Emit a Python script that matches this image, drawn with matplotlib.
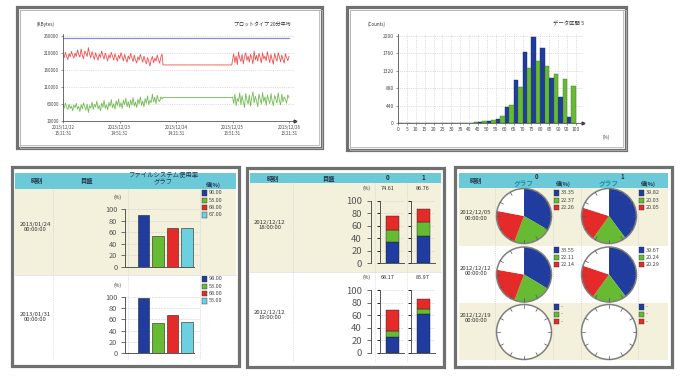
import numpy as np
import matplotlib
matplotlib.use('Agg')
import matplotlib.pyplot as plt
from matplotlib.patches import Rectangle, Circle

plt.rcParams['font.family'] = ['Noto Sans CJK JP', 'DejaVu Sans']

# ------------------------------------------------------------------ data
line_xtick_hours = [0, 23.5, 47, 70.5, 94]
line_xtick_labels = ['2013/12/22\n15:21:31', '2013/12/23\n14:51:31', '2013/12/24\n14:21:31',
                     '2013/12/25\n13:51:31', '2013/12/26\n13:21:31']
line_yticks = [10000, 60000, 110000, 160000, 210000, 260000]
line_blue = 253000
red_seg1 = [204,196,211,199,190,207,198,214,202,194,209,199,218,205,197,221,203,192,215,208,199,225,206,195,
            213,201,190,210,198,188,206,196,215,202,191,209,197,186,204,194,211,199,188,207,195,185,203,193,
            210,198,186,205,192,182,201,191,208,195,184,203,189,180,198,188,205,193,182,200,187,177,196,184,
            171,190,199,180,194,185,203,190,179,197,206]
green_seg1 = [55,47,62,50,43,58,46,53,39,56,48,61,44,52,37,57,45,63,49,41,59,34,54,47,65,43,58,50,67,45,55,39,
              62,49,70,46,57,42,64,52,72,48,60,44,68,54,74,50,63,46,70,57,76,51,66,48,71,56,78,53,65,49,73,59,
              80,55,68,51,75,61,83,57,70,63,88,65,79,60,85,71,66,80,74]
red_flat = 174
green_flat = 78
red_seg2 = [188,207,181,200,175,212,194,184,205,177,198,210,187,200,182,205,194,177,215,189,202,185,208,196,
            180,210,192,200,186,213,195,181,205,189,176,208,194,185,210,198,183,203,190,179,207,195,187,199]
green_seg2 = [80,61,88,54,75,67,92,57,84,65,49,90,71,59,86,53,78,95,62,82,69,51,88,73,59,93,66,80,55,86,71,60,
              90,67,54,84,75,62,92,69,57,88,65,80,73,61,86,78]

hist_bins = [0, 5, 10, 15, 20, 25, 30, 35, 40, 45, 50, 55, 60, 65, 70, 75, 80, 85, 90, 95]
hist_blue = [0, 0, 0, 5, 0, 0, 5, 8, 12, 25, 50, 100, 410, 1075, 1805, 2185, 1890, 1135, 645, 145]
hist_green = [0, 0, 0, 5, 0, 0, 8, 10, 15, 50, 85, 185, 460, 900, 1400, 1570, 1445, 1250, 1110, 940]
hist_yticks = [0, 440, 880, 1320, 1760, 2200]
hist_xticks = list(range(0, 101, 5))

fs_dates = ['2013/01/24\n00:00:00', '2013/01/31\n00:00:00']
fs_values = [[90, 53, 68, 67], [98, 53, 68, 55]]
fs_labels = [['90.00', '53.00', '68.00', '67.00'], ['98.00', '53.00', '68.00', '55.00']]

st_dates = ['2012/12/12\n18:00:00', '2012/12/12\n19:00:00']
st_blue = [[33.55, 44.20], [25.60, 61.70]]
st_green = [[20.10, 21.30], [9.60, 8.00]]
st_red = [[20.96, 21.26], [32.97, 16.27]]
st_totals = [['74.61', '86.76'], ['68.17', '85.97']]

pie_dates = ['2012/12/05\n00:00:00', '2012/12/12\n00:00:00', '2012/12/19\n00:00:00']
pie_values = [[[33.35, 22.37, 22.26], [39.82, 20.03, 20.05]],
              [[33.55, 22.11, 22.14], [39.67, 20.24, 20.29]],
              [None, None]]

# ------------------------------------------------------------------ style
BLUE = '#1f3c9e'
GREEN = '#66bb33'
RED = '#e52a2a'
CYAN = '#6dd0e0'
HEADER = '#6ccad8'
BEIGE = '#f3f1dc'
TEAL = '#1a8fa0'

W, H = 685, 380
fig = plt.figure(figsize=(6.85, 3.8), dpi=100)
fig.patch.set_facecolor('white')
bg = fig.add_axes([0, 0, 1, 1])
bg.set_xlim(0, W)
bg.set_ylim(H, 0)
bg.axis('off')


def pax(x0, y0, x1, y1):
    a = fig.add_axes([x0 / W, 1 - y1 / H, (x1 - x0) / W, (y1 - y0) / H])
    a.set_facecolor('none')
    return a


def T(x, y, s, size=4.5, color='#333333', ha='center', va='center', weight='normal'):
    bg.text(x, y, s, fontsize=size, color=color, ha=ha, va=va, fontweight=weight, linespacing=1.15)


def rect(x0, y0, x1, y1, **kw):
    bg.add_patch(Rectangle((x0, y0), x1 - x0, y1 - y0, **kw))


def frame(x0, y0, x1, y1, inner=False):
    rect(x0, y0, x1, y1, facecolor='white', edgecolor='#707070', lw=2.3)
    if inner:
        rect(x0 + 3, y0 + 3, x1, y1, fill=False, edgecolor='#b5b5b5', lw=0.6)
        rect(x0 + 3, y0 + 3, x1 - 3, y1 - 3, fill=False, edgecolor='#b5b5b5', lw=0.6)


def vsep(x, y0, y1):
    bg.plot([x, x], [y0, y1], color='#d0d0d0', lw=0.5, ls=(0, (1.5, 1.5)))


# ------------------------------------------------------------------ panel 1: line chart
frame(17, 7, 322, 148, inner=True)
T(37, 24, '(KBytes)', size=3.3, ha='left')
T(291, 24, 'プロットタイプ 20分平均', size=3.6, ha='right')
ax = pax(63, 34, 63 + 96.5 / 94 * 226, 120.7)
ax.set_xlim(0, 96.5)
ax.set_ylim(10000, 265000)
xs1 = np.linspace(0, 41.2, len(red_seg1))
xs2 = np.linspace(70.5, 94, len(red_seg2))
x_all = np.concatenate([xs1, [41.6, 70.2], xs2])
red_all = np.concatenate([red_seg1, [red_flat, red_flat], red_seg2]) * 1000
green_all = np.concatenate([green_seg1, [green_flat, green_flat], green_seg2]) * 1000
ax.plot([0, 94], [line_blue, line_blue], color='#8a8ae0', lw=0.9)
ax.plot(x_all, red_all, color='#ee5050', lw=0.6)
ax.plot(x_all, green_all, color='#74bb55', lw=0.6)
ax.set_yticks(line_yticks)
ax.set_yticklabels([str(v) for v in line_yticks])
ax.set_xticks(line_xtick_hours)
ax.set_xticklabels(line_xtick_labels)
ax.tick_params(labelsize=3.2, length=1.5, width=0.4, pad=1.5, colors='#444444')
ax.yaxis.grid(True, ls=':', color='#c0c0c0', lw=0.5)
for s in ['top', 'right']:
    ax.spines[s].set_visible(False)
for s in ['left', 'bottom']:
    ax.spines[s].set_color('#555555')
    ax.spines[s].set_linewidth(0.6)
ax.plot(96.5, 10000, marker='>', ms=2, color='#333333', clip_on=False)

# ------------------------------------------------------------------ panel 2: histogram
frame(347, 7, 626, 150, inner=True)
T(368, 24, '(Counts)', size=3.3, ha='left')
T(584, 24, 'データ区間 5', size=3.9, ha='right')
T(606, 137, '(%)', size=3.3)
hx = pax(398, 34, 583, 123)
hx.set_xlim(0, 104)
hx.set_ylim(0, 2250)
hx.bar(hist_bins, hist_blue, width=2.5, align='edge', color=BLUE, edgecolor='#1a2a6a', lw=0.3, zorder=3)
hx.bar([b + 2.5 for b in hist_bins], hist_green, width=2.5, align='edge', color=GREEN,
       edgecolor='#3d7a1e', lw=0.3, zorder=3)
hx.set_xticks(hist_xticks)
hx.set_xticklabels([str(v) for v in hist_xticks])
hx.set_yticks(hist_yticks)
hx.set_yticklabels([str(v) for v in hist_yticks])
hx.tick_params(labelsize=3.5, length=1.5, width=0.4, pad=1.5, colors='#444444')
hx.grid(True, ls=':', color='#c0c0c0', lw=0.5)
hx.set_axisbelow(True)
for s in ['top', 'right']:
    hx.spines[s].set_visible(False)
for s in ['left', 'bottom']:
    hx.spines[s].set_color('#555555')
    hx.spines[s].set_linewidth(0.6)
hx.plot(104, 0, marker='>', ms=2, color='#333333', clip_on=False)

# ------------------------------------------------------------------ panel 3: file system table
frame(12, 167, 239, 366)
rect(15, 173, 236, 189, facecolor=HEADER, edgecolor='none')
rect(15, 189, 236, 275, facecolor=BEIGE, edgecolor='none')
bg.plot([15, 236], [275, 275], color='#dddddd', lw=0.5)
for xs in [53, 128, 200]:
    vsep(xs, 189, 360)
T(37, 181, '時刻', size=4.5, color='#223344', weight='bold')
T(86, 181, '目盛', size=4.5, color='#223344', weight='bold')
T(163, 175.5, 'ファイルシステム使用率', size=4.6, color='#223355')
T(163, 182.5, 'グラフ', size=4.6, color='#223355')
T(213, 185, '値(%)', size=4.0, color='#223355', weight='bold')
fs_colors = [BLUE, GREEN, RED, CYAN]
for r in range(2):
    y100, y0 = [(209, 267), (297, 353)][r]
    T(35, [227, 317][r], fs_dates[r], size=4.3)
    T(118, y100 - 12, '(%)', size=3.6)
    a = pax(125, y100, 200, y0)
    a.set_ylim(0, 100)
    a.set_xlim(-1.276, 3.896)
    a.bar(range(4), fs_values[r], width=0.76, color=fs_colors, edgecolor='#222222', lw=0.4, zorder=3)
    a.set_yticks([0, 20, 40, 60, 80, 100])
    a.set_xticks([])
    a.tick_params(axis='y', direction='out', length=3, width=0.6, pad=2.5, labelsize=5.3, colors='#555555')
    a.yaxis.grid(True, ls='--', color='#cfcfcf', lw=0.4)
    a.set_axisbelow(True)
    for s in ['top', 'right']:
        a.spines[s].set_visible(False)
    a.spines['bottom'].set_bounds(-1.276, 3.45)
    for s in ['left', 'bottom']:
        a.spines[s].set_color('#555555')
        a.spines[s].set_linewidth(0.7)
    ly = [193, 279][r]
    for i in range(4):
        yy = ly + i * 7.3
        rect(202, yy - 2.6, 207.5, yy + 2.6, facecolor=fs_colors[i], edgecolor='#333333', lw=0.3)
        T(208.5, yy, fs_labels[r][i], size=4.0, ha='left', color='#444444')

# ------------------------------------------------------------------ panel 4: stacked bar table
frame(247, 168, 444, 367)
rect(250, 173, 441, 183, facecolor=HEADER, edgecolor='none')
rect(250, 183, 441, 272, facecolor=BEIGE, edgecolor='none')
bg.plot([250, 441], [272, 272], color='#dddddd', lw=0.5)
for xs in [293, 375, 407]:
    vsep(xs, 183, 361)
T(273, 178, '時刻', size=4.5, color='#223344', weight='bold')
T(328, 178, '目盛', size=4.5, color='#223344', weight='bold')
T(388, 178, '0', size=4.5, color='#223344', weight='bold')
T(423, 178, '1', size=4.5, color='#223344', weight='bold')
for r in range(2):
    y100, y0 = [(200.5, 263.3), (290, 353)][r]
    T(270, [225, 315][r], st_dates[r], size=4.3)
    T(367, y100 - 12.5, '(%)', size=3.6)
    sc = pax(371, y100, 374, y0)
    sc.set_ylim(0, 100)
    sc.set_yticks([0, 20, 40, 60, 80, 100])
    sc.set_xticks([])
    sc.tick_params(axis='y', direction='out', length=3, width=0.6, pad=3.5, labelsize=6.8, colors='#555555')
    for s in ['top', 'right', 'bottom']:
        sc.spines[s].set_visible(False)
    sc.spines['left'].set_color('#555555')
    sc.spines['left'].set_linewidth(0.7)
    for c in range(2):
        spx = [380, 411][c]
        T([388, 423][c], y100 - 12.5, st_totals[r][c], size=4.0)
        a = pax(spx, y100, spx + 24, y0)
        a.set_ylim(0, 100)
        a.set_xlim(-1, 0.85)
        b = st_blue[r][c]
        g = st_green[r][c]
        rd = st_red[r][c]
        a.bar([0], [b], width=1.0, color=BLUE, edgecolor='#222222', lw=0.3, zorder=3)
        a.bar([0], [g], bottom=[b], width=1.0, color=GREEN, edgecolor='#222222', lw=0.3, zorder=3)
        a.bar([0], [rd], bottom=[b + g], width=1.0, color=RED, edgecolor='#222222', lw=0.3, zorder=3)
        a.set_yticks([0, 20, 40, 60, 80, 100])
        a.set_yticklabels([])
        a.set_xticks([])
        a.tick_params(axis='y', direction='out', length=2.5, width=0.6)
        a.yaxis.grid(True, ls='--', color='#cfcfcf', lw=0.4)
        a.set_axisbelow(True)
        for s in ['top', 'right']:
            a.spines[s].set_visible(False)
        for s in ['left', 'bottom']:
            a.spines[s].set_color('#555555')
            a.spines[s].set_linewidth(0.7)

# ------------------------------------------------------------------ panel 5: pie table
frame(455, 167, 672, 367)
rect(459, 173, 668, 188, facecolor=HEADER, edgecolor='none')
rect(459, 188, 668, 246, facecolor=BEIGE, edgecolor='none')
rect(459, 303, 668, 360, facecolor=BEIGE, edgecolor='none')
for xs in [495, 553, 581, 638]:
    vsep(xs, 188, 360)
T(476, 180, '時刻', size=4.5, color='#223344', weight='bold')
T(537, 176.5, '0', size=4.3, color='#223344', weight='bold')
T(622, 176.5, '1', size=4.3, color='#223344', weight='bold')
for gx, vx in [(524, 563), (609, 648)]:
    T(gx, 184, 'グラフ', size=4.8, color=TEAL, weight='bold')
    T(vx, 184, '値(%)', size=4.0, color='#223344', weight='bold')
pie_colors = [BLUE, GREEN, RED]
R = 27.5
for r in range(3):
    cy = [216, 274.5, 332][r]
    T(476, [215.5, 271, 318][r], pie_dates[r], size=4.3)
    for c in range(2):
        cx = [524, 609][c]
        k = R * 1.08
        a = pax(cx - k, cy - k, cx + k, cy + k)
        vals = pie_values[r][c]
        if vals is not None:
            a.pie(vals + [100 - sum(vals)], colors=pie_colors + ['white'], startangle=90,
                  counterclock=False, radius=1, wedgeprops=dict(linewidth=0))
        else:
            a.add_patch(Circle((0, 0), 1, facecolor='white', edgecolor='none'))
        a.add_patch(Circle((0, 0), 1, fill=False, edgecolor='#808080', lw=1.1, zorder=5))
        for ang in np.deg2rad(np.arange(0, 360, 30)):
            a.plot([0.87 * np.cos(ang), 0.99 * np.cos(ang)], [0.87 * np.sin(ang), 0.99 * np.sin(ang)],
                   color='#555555', lw=0.5, zorder=6)
        a.set_xlim(-1.08, 1.08)
        a.set_ylim(-1.08, 1.08)
        a.set_aspect('equal')
        a.axis('off')
        lx = [554, 639][c]
        ly = [193, 250, 307][r]
        for i in range(3):
            yy = ly + i * 7.2
            rect(lx, yy - 2.6, lx + 5.5, yy + 2.6, facecolor=pie_colors[i], edgecolor='#333333', lw=0.3)
            lab = '-' if vals is None else f'{vals[i]:.2f}'
            T(lx + 6.5, yy, lab, size=4.0, ha='left', color='#444444')

fig.savefig('out.png', dpi=100, facecolor='white')
